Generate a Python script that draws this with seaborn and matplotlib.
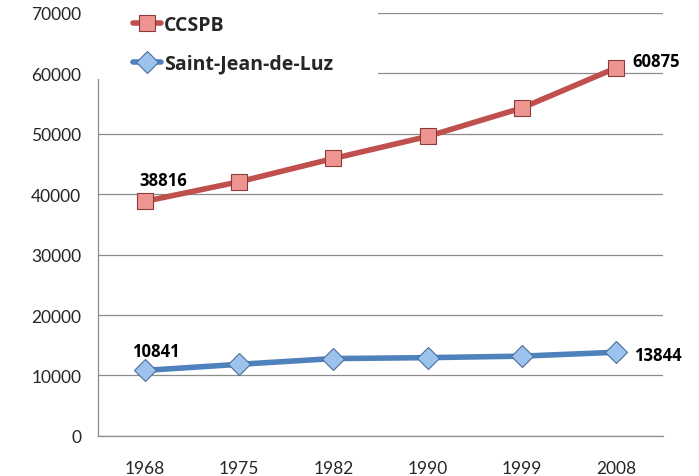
import numpy as np
import pandas as pd
import seaborn as sns
import matplotlib.pyplot as plt
from matplotlib.patches import Rectangle

years = ["1968", "1975", "1982", "1990", "1999", "2008"]
ccspb = [38816, 42050, 45900, 49550, 54250, 60875]
sjdl = [10841, 11850, 12800, 12950, 13200, 13844]

df = pd.DataFrame({
    "annee": years * 2,
    "population": ccspb + sjdl,
    "serie": ["CCSPB"] * 6 + ["Saint-Jean-de-Luz"] * 6,
})

sns.set_style("white")
plt.rcParams["font.family"] = ["Lato", "DejaVu Sans"]

fig = plt.figure(figsize=(6.99, 4.77), dpi=100)
ax = fig.add_axes([0.140, 0.084, 0.8085, 0.887])

palette = {"CCSPB": "#C0504D", "Saint-Jean-de-Luz": "#4F81BD"}
sns.lineplot(data=df, x="annee", y="population", hue="serie", style="serie",
             markers={"CCSPB": "s", "Saint-Jean-de-Luz": "D"}, dashes=False,
             palette=palette, sort=False, linewidth=4.0, ax=ax, legend=False)

fills = {"CCSPB": "#EE9592", "Saint-Jean-de-Luz": "#9CC3EE"}
edges = {"CCSPB": "#8C3B39", "Saint-Jean-de-Luz": "#4A6E99"}
for line, name in zip(ax.lines, ["CCSPB", "Saint-Jean-de-Luz"]):
    line.set_markerfacecolor(fills[name])
    line.set_markeredgecolor(edges[name])
    line.set_markeredgewidth(0.8)
    line.set_markersize(12 if name == "CCSPB" else 11)

ax.set_ylim(0, 70000)
ax.set_xlim(-0.5, 5.5)
ax.set_yticks(np.arange(0, 70001, 10000))
ax.yaxis.grid(True, color="#8C8C8C", linewidth=0.9)
ax.set_axisbelow(True)
ax.set_xlabel("")
ax.set_ylabel("")

ax.set_xticks(range(6))
ax.set_xticklabels(years)
ax.set_xticks(np.arange(-0.5, 6, 1), minor=True)
ax.tick_params(axis="x", which="major", length=0, pad=17, labelsize=12.5)
ax.tick_params(axis="x", which="minor", length=6, color="#8C8C8C", width=0.9, direction="out")
ax.tick_params(axis="y", length=4, color="#8C8C8C", width=0.9, direction="out", pad=8, labelsize=12.5)

for side in ["top", "right"]:
    ax.spines[side].set_visible(False)
for side in ["left", "bottom"]:
    ax.spines[side].set_color("#8C8C8C")
    ax.spines[side].set_linewidth(0.9)

# etiquettes de données
lab = dict(fontsize=12, fontweight="bold", color="black", family=["Open Sans", "DejaVu Sans"])
ax.annotate(str(ccspb[0]), (0, ccspb[0]), xytext=(13, 15), textcoords="offset points", ha="center", va="center", **lab)
ax.annotate(str(ccspb[-1]), (5, ccspb[-1]), xytext=(12, 5), textcoords="offset points", ha="left", va="center", **lab)
ax.annotate(str(sjdl[0]), (0, sjdl[0]), xytext=(8, 14), textcoords="offset points", ha="center", va="center", **lab)
ax.annotate(str(sjdl[-1]), (5, sjdl[-1]), xytext=(13, -2), textcoords="offset points", ha="left", va="center", **lab)

# fond blanc de la légende (cache la grille et le haut de l'axe)
ax.add_patch(Rectangle((96 / 699, 1 - 80 / 477), (378 - 96) / 699, 80 / 477,
                       transform=fig.transFigure, facecolor="white", edgecolor="none",
                       clip_on=False, zorder=4))

leg = ax.legend(ax.lines, ["CCSPB", "Saint-Jean-de-Luz"], loc="upper left",
                bbox_to_anchor=(133 / 699, 1 - 16 / 477), bbox_transform=fig.transFigure,
                frameon=False, handlelength=1.45, handletextpad=0.15,
                labelspacing=0.95, borderpad=0, borderaxespad=0,
                prop={"family": ["Open Sans", "DejaVu Sans"], "weight": "bold", "size": 14})
leg.set_zorder(10)

fig.savefig("out.png", dpi=100)
